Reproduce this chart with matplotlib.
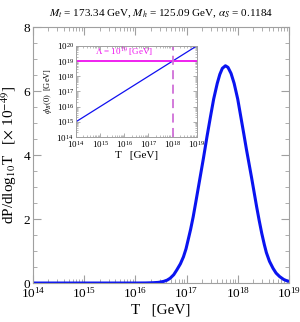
import numpy as np
import matplotlib
matplotlib.use("Agg")
import matplotlib.pyplot as plt
from matplotlib.ticker import LogLocator, MultipleLocator, NullFormatter, LogFormatterMathtext

plt.rcParams['font.family'] = ['Liberation Serif', 'DejaVu Serif']
plt.rcParams['mathtext.fontset'] = 'stix'

# main curve: log10 T and dP/dlog10 T (x 1e-49)
log_T = [14.0, 15.0, 16.0, 16.2, 16.35, 16.45, 16.55, 16.62, 16.68, 16.75, 16.81,
         16.88, 16.94, 16.99, 17.03, 17.08, 17.13, 17.18, 17.23, 17.28, 17.33,
         17.40, 17.47, 17.53, 17.60, 17.65, 17.70, 17.76, 17.81, 17.87, 17.93,
         18.00, 18.06, 18.12, 18.17, 18.22, 18.27, 18.32, 18.37, 18.42, 18.47,
         18.52, 18.56, 18.62, 18.69, 18.75, 18.82, 18.90, 18.96, 19.0]
dP = [0.0, 0.0, 0.0, 0.002, 0.01, 0.02, 0.05, 0.09, 0.15, 0.26, 0.41,
      0.6, 0.82, 1.07, 1.34, 1.68, 2.07, 2.52, 2.98, 3.44, 3.9,
      4.58, 5.22, 5.75, 6.24, 6.52, 6.71, 6.79, 6.74, 6.55, 6.24,
      5.75, 5.2, 4.65, 4.18, 3.74, 3.3, 2.84, 2.38, 1.95, 1.55,
      1.2, 0.95, 0.68, 0.46, 0.31, 0.2, 0.11, 0.07, 0.055]

# inset: phi_B(0) vs T
inset_T = [1e14, 1e19]
inset_phi = [1e15, 1e20]
Lambda = 1e19
T_cross = 1e18

title = r"$M_t$ = 173.34 GeV, $M_h$ = 125.09 GeV, $\alpha_S$ = 0.1184"

fig = plt.figure(figsize=(3.0, 3.22), dpi=100)
ax = fig.add_axes([0.11, 0.121, 0.853, 0.795])
T = 10 ** np.array(log_T)
ax.plot(T, dP, color='#0a14f0', lw=2.2, solid_capstyle='round', solid_joinstyle='round')
ax.set_xscale('log')
ax.set_xlim(1e14, 1e19)
ax.set_ylim(0, 8)
ax.xaxis.set_major_locator(LogLocator(base=10, numticks=10))
ax.xaxis.set_minor_locator(LogLocator(base=10, subs=np.arange(2, 10), numticks=50))
ax.xaxis.set_minor_formatter(NullFormatter())
ax.xaxis.set_major_formatter(LogFormatterMathtext())
ax.yaxis.set_major_locator(MultipleLocator(2))
ax.yaxis.set_minor_locator(MultipleLocator(0.5))
for s in ax.spines.values():
    s.set_color('#a0a0a0')
    s.set_linewidth(0.8)
ax.tick_params(which='both', direction='in', top=True, right=True, color='#a0a0a0', labelsize=9.5, pad=2)
ax.tick_params(which='major', length=6, width=0.8)
ax.tick_params(which='minor', length=3, width=0.6)
ax.set_xlabel("T   [GeV]", fontsize=11, labelpad=2)
ax.set_ylabel(r"dP/dlog$_{10}$T   [$\times$ 10$^{-49}$]", fontsize=11, labelpad=3)
ax.set_title(title, fontsize=8, pad=8)

# inset
ins = fig.add_axes([0.253, 0.5745, 0.403, 0.283])
ins.plot(inset_T, inset_phi, color='#1010f0', lw=0.9)
ins.axhline(Lambda, color='#ee10ee', lw=1.3)
ins.axvline(T_cross, color='#d070d8', lw=1.3, dashes=(5, 3))
ins.set_xscale('log')
ins.set_yscale('log')
ins.set_xlim(1e14, 1e19)
ins.set_ylim(1e14, 1e20)
ins.xaxis.set_major_locator(LogLocator(base=10, numticks=10))
ins.xaxis.set_minor_locator(LogLocator(base=10, subs=np.arange(2, 10), numticks=50))
ins.xaxis.set_minor_formatter(NullFormatter())
ins.yaxis.set_major_locator(LogLocator(base=10, numticks=10))
ins.yaxis.set_minor_locator(LogLocator(base=10, subs=np.arange(2, 10), numticks=50))
ins.yaxis.set_minor_formatter(NullFormatter())
for s in ins.spines.values():
    s.set_color('#a0a0a0')
    s.set_linewidth(0.7)
ins.tick_params(which='both', direction='in', top=True, right=True, color='#a0a0a0', labelsize=6.5, pad=1.5)
ins.tick_params(which='major', length=3, width=0.6)
ins.tick_params(which='minor', length=1.5, width=0.5)
ins.set_xlabel("T   [GeV]", fontsize=8, labelpad=1)
ins.set_ylabel(r"$\phi_B(0)$  [GeV]", fontsize=6, labelpad=2)
ins.text(1e16, 1.35e19, r"$\Lambda$ = 10$^{19}$ [GeV]", color='#ee10ee', fontsize=6.5,
         ha='center', va='bottom')

fig.savefig("out.png", dpi=100)
